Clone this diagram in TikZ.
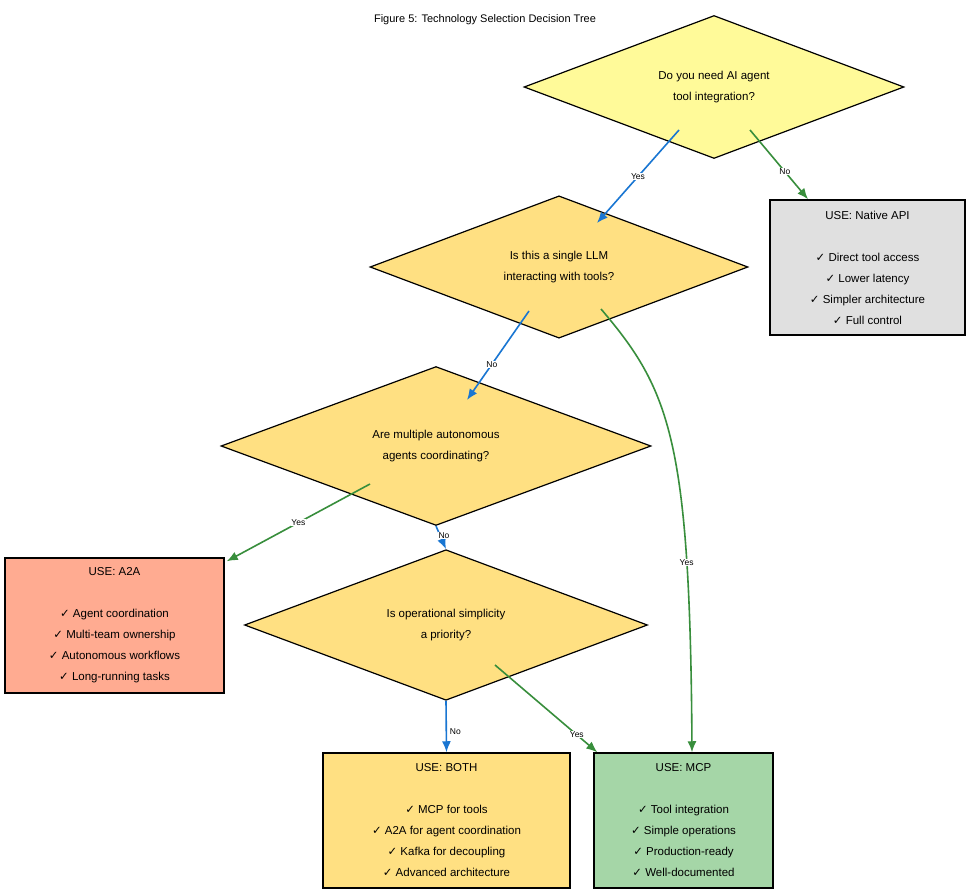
\documentclass[tikz,border=0pt]{standalone}
\usepackage{fontspec}
\setmainfont{Liberation Sans}
\newfontfamily\dejavu{DejaVu Sans}
\usetikzlibrary{shapes.geometric,arrows.meta,calc}
\newcommand{\ck}{{\dejavu\char"2713}}
\definecolor{eblue}{HTML}{1976D2}
\definecolor{egreen}{HTML}{388E3C}
\begin{document}
\begin{tikzpicture}[x=1pt,y=-1pt,
  txt/.style={font=\fontsize{11.5}{21}\selectfont,align=center},
  dia/.style={diamond,draw=black,line width=1.2pt,inner sep=0pt,txt},
  box/.style={rectangle,draw=black,line width=1.5pt,inner sep=0pt,txt},
  yesno/.style={font=\fontsize{8.5}{10}\selectfont,fill=white,inner sep=0.5pt},
  eb/.style={draw=eblue,line width=1.6pt,-{Latex[length=11pt,width=9pt]}},
  eg/.style={draw=egreen,line width=1.6pt,-{Latex[length=11pt,width=9pt]}}]
\useasboundingbox[fill=white] (0,0) rectangle (971,893);
\node[font=\fontsize{11}{13}\selectfont] (title) at (485,20) {Figure 5: Technology Selection Decision Tree};
\node[dia,fill=yellow!40!white,minimum width=380pt,minimum height=104pt] (d1) at (714,87) {Do you need AI agent\\tool integration?};
\node[dia,fill={rgb,255:red,255;green,224;blue,130},minimum width=378pt,minimum height=104pt] (d2) at (559,267) {Is this a single LLM\\interacting with tools?};
\node[dia,fill={rgb,255:red,255;green,224;blue,130},minimum width=430pt,minimum height=104pt] (d3) at (436,446) {Are multiple autonomous\\agents coordinating?};
\node[dia,fill={rgb,255:red,255;green,224;blue,130},minimum width=403pt,minimum height=104pt] (d4) at (446,625) {Is operational simplicity\\a priority?};
\node[box,fill={rgb,255:red,224;green,224;blue,224},minimum width=195pt,minimum height=135pt] (nat) at (867.5,267.5) {USE: Native API\\[21pt]\ck{} Direct tool access\\\ck{} Lower latency\\\ck{} Simpler architecture\\\ck{} Full control};
\node[box,fill={rgb,255:red,255;green,171;blue,145},minimum width=219pt,minimum height=135pt] (a2a) at (114.5,625.5) {USE: A2A\\[21pt]\ck{} Agent coordination\\\ck{} Multi-team ownership\\\ck{} Autonomous workflows\\\ck{} Long-running tasks};
\node[box,fill={rgb,255:red,255;green,224;blue,130},minimum width=247pt,minimum height=135pt] (both) at (446.5,820.5) {USE: BOTH\\[21pt]\ck{} MCP for tools\\\ck{} A2A for agent coordination\\\ck{} Kafka for decoupling\\\ck{} Advanced architecture};
\node[box,fill={rgb,255:red,165;green,214;blue,167},minimum width=179pt,minimum height=135pt] (mcp) at (683.5,820.5) {USE: MCP\\[21pt]\ck{} Tool integration\\\ck{} Simple operations\\\ck{} Production-ready\\\ck{} Well-documented};
\draw[eb] ($(d1.center)+(-35,43)$) -- node[yesno]{Yes} ($(d2.center)+(38,-44)$);
\draw[eg] ($(d1.center)+(36,43)$) -- node[yesno,pos=0.6]{No} (nat.north west -| 808,0);
\draw[eb] ($(d2.center)+(-30,44)$) -- node[yesno,pos=0.6]{No} ($(d3.center)+(31,-46)$);
\draw[eg] ($(d2.center)+(42,42)$) .. controls (670,390) and (690,440) .. node[yesno,pos=0.75]{Yes} (mcp.north -| 692,0);
\draw[eg] ($(d3.center)+(-66,38)$) -- node[yesno]{Yes} ($(a2a.north east)+(2,4)$);
\draw[eb] (d3.south) -- node[yesno,pos=0.4,xshift=4pt]{No} (d4.north);
\draw[eb] (d4.south) -- node[yesno,pos=0.6,xshift=9pt]{No} (both.north);
\draw[eg] ($(d4.center)+(49,40)$) -- node[yesno,pos=0.8]{Yes} ($(mcp.north west)+(4,0)$);
\end{tikzpicture}
\end{document}
